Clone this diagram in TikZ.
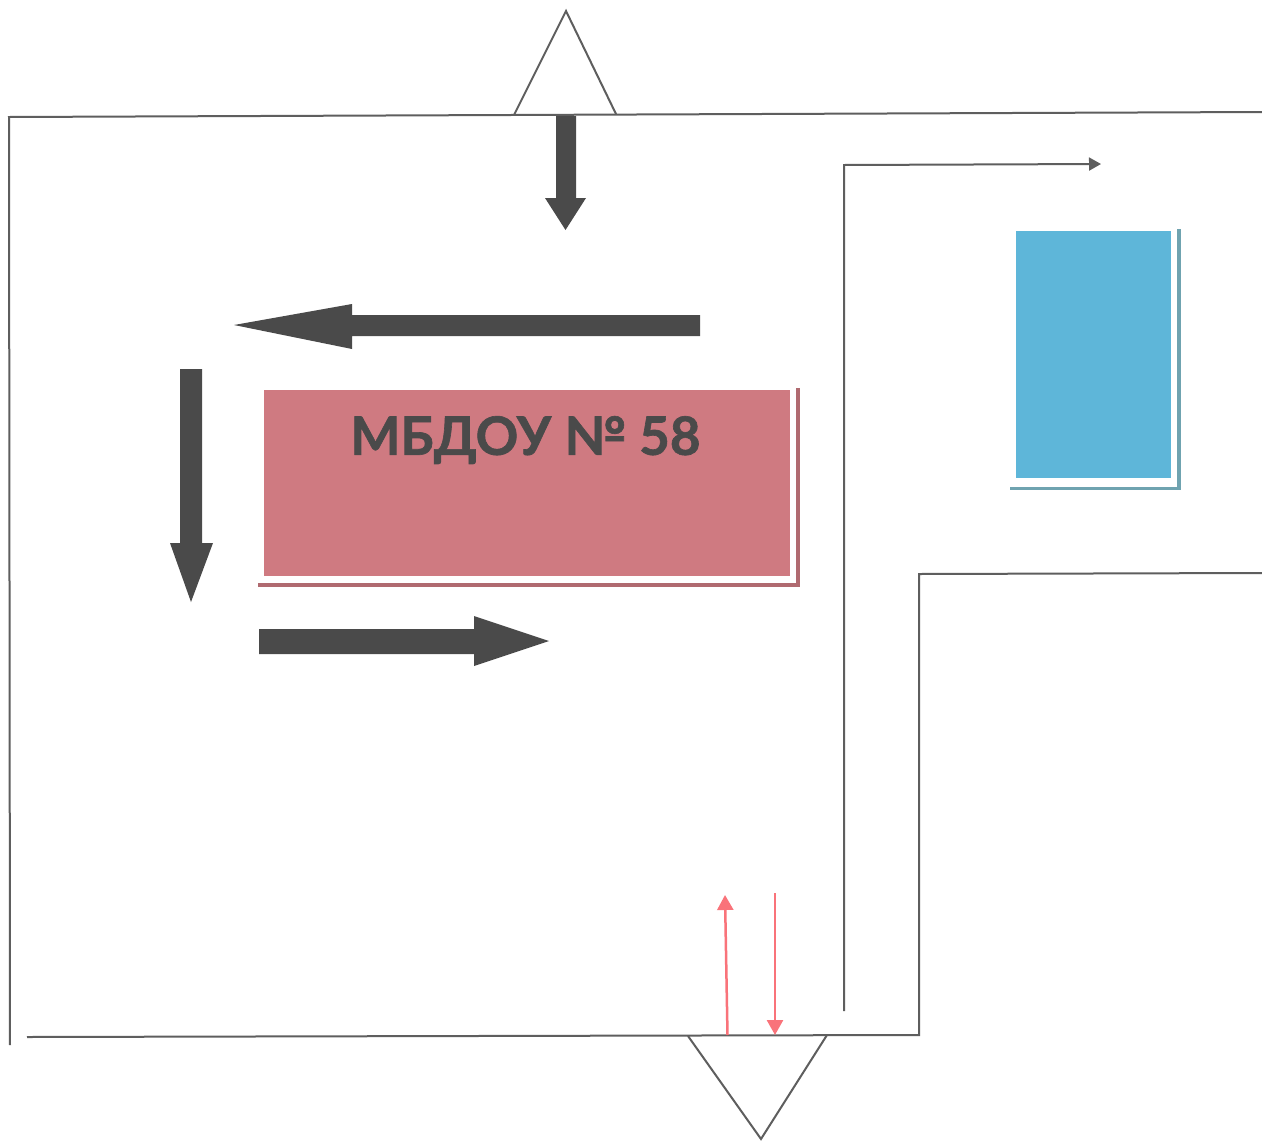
\documentclass[tikz,border=0pt]{standalone}
\usepackage{fontspec}
\setmainfont{Lato}
\usetikzlibrary{arrows.meta}
\definecolor{wallc}{HTML}{5E5E5E}
\definecolor{darkc}{HTML}{4A4A4A}
\definecolor{redc}{HTML}{CF7A81}
\definecolor{redl}{HTML}{B06A70}
\definecolor{bluec}{HTML}{5EB6D9}
\definecolor{bluel}{HTML}{6FA3B0}
\definecolor{pinkc}{HTML}{F9737A}
\tikzset{
  wall/.style={draw=wallc,line width=2pt,line join=miter},
  bigarrow/.style={fill=darkc,draw=none},
  redarrow/.style={draw=pinkc,line width=2.5pt,-{Triangle[length=15pt,width=16pt]}},
  thinarrow/.style={draw=wallc,line width=2pt,-{Triangle[length=12pt,width=13pt]}},
}
\begin{document}
\begin{tikzpicture}[x=1pt,y=-1pt]
\useasboundingbox[fill=white] (0,0) rectangle (1262,1141);
% walls
\draw[wall] (1262,112) -- (9,117) -- (10,1045);
\draw[wall] (27,1037) -- (919,1035) -- (919,574) -- (1262,573);
\draw[wall] (514,115) -- (566,11) -- (616,114);
\draw[wall] (688,1036) -- (761,1139) -- (827,1035);
% thin route arrow
\draw[thinarrow] (844,1011) -- (844,165) -- (1101,164);
% red arrows
\draw[redarrow] (727.5,1035) -- (725,895);
\draw[redarrow] (775,893) -- (775,1035);
% buildings
\fill[redc] (264,390) rectangle (790,576);
\draw[redl,line width=3.5pt] (798,388) -- (798,585) -- (258,585);
\fill[bluec] (1016,231) rectangle (1171,478);
\draw[bluel,line width=3.5pt] (1179,229) -- (1179,488.5) -- (1010,488.5);
\node[text=darkc,font=\bfseries\fontsize{53}{53}\selectfont\addfontfeature{FakeBold=1.2},inner sep=0pt] (title) at (525.5,440) {МБДОУ № 58};
% big arrows
\fill[bigarrow] (556,116) -- (576,116) -- (576,198) -- (586,198) -- (565.5,230) -- (545,198) -- (556,198) -- cycle;
\fill[bigarrow] (700,315) -- (352,315) -- (352,304) -- (234,325) -- (352,349) -- (352,336) -- (700,336) -- cycle;
\fill[bigarrow] (180,369) -- (202,369) -- (202,543) -- (213,543) -- (191,602) -- (170,543) -- (180,543) -- cycle;
\fill[bigarrow] (259,629) -- (474,629) -- (474,616) -- (549,641) -- (474,666) -- (474,654) -- (259,654) -- cycle;
\end{tikzpicture}
\end{document}
